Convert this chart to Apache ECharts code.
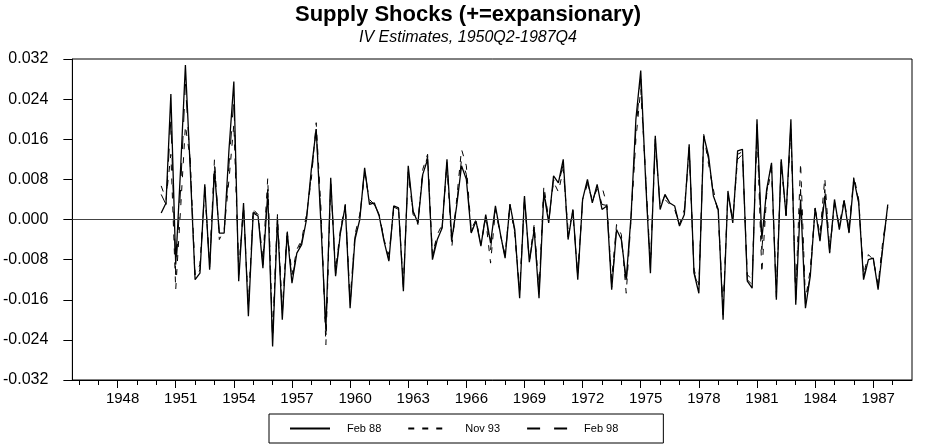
<!DOCTYPE html>
<html>
<head>
<meta charset="utf-8">
<script src="https://cdn.jsdelivr.net/npm/echarts@6/dist/echarts.min.js"></script>
<style>
html, body { margin: 0; padding: 0; background: #fff; }
#chart { width: 935px; height: 447px; }
</style>
</head>
<body>
<div id="chart"></div>
<script>
// quarterly supply shocks, 1950Q2 - 1987Q4
const startYear = 1950
const startQuarter = 2

const feb88 = [
    0.0013, 0.0033, 0.025, -0.009, 0.010, 0.0308, 0.010, -0.012, -0.0107, 0.007,
    -0.010, 0.0097, -0.0027, -0.0027, 0.014, 0.0275, -0.0123, 0.0033, -0.0193, 0.0013,
    0.0007, -0.0097, 0.0053, -0.0253, 0.0, -0.020, -0.0027, -0.0127, -0.0067, -0.005,
    0.0, 0.010, 0.018, -0.0013, -0.022, 0.0083, -0.0113, -0.0027, 0.0027, -0.0177,
    -0.004, 0.0, 0.0103, 0.003, 0.0033, 0.0007, -0.0043, -0.0083, 0.0027, 0.0023,
    -0.0143, 0.0107, 0.0017, -0.0007, 0.009, 0.012, -0.008, -0.004, -0.0017, 0.012,
    -0.004, 0.0027, 0.0107, 0.008, -0.0027, -0.0003, -0.0053, 0.001, -0.0047, 0.0027,
    -0.0027, -0.0077, 0.003, -0.002, -0.0157, 0.0047, -0.0085, -0.002, -0.0157, 0.0053,
    -0.0007, 0.0087, 0.0073, 0.012, -0.004, 0.002, -0.012, 0.004, 0.008, 0.0033,
    0.007, 0.002, 0.0027, -0.014, -0.002, -0.004, -0.012, 0.0007, 0.020, 0.0297,
    0.008, -0.0107, 0.0167, 0.002, 0.005, 0.0033, 0.0027, -0.0013, 0.001, 0.015,
    -0.0107, -0.0147, 0.0167, 0.0127, 0.0047, 0.002, -0.020, 0.0057, -0.0007, 0.0137,
    0.014, -0.0123, -0.0137, 0.020, -0.004, 0.006, 0.0113, -0.016, 0.012, 0.0007,
    0.020, -0.017, 0.004, -0.0177, -0.0113, 0.0023, -0.0043, 0.0047, -0.0067, 0.004,
    -0.002, 0.0037, -0.0027, 0.008, 0.0033, -0.012, -0.008, -0.0077, -0.014, -0.0053,
    0.003
]

const nov93 = [
    0.0067, 0.004, 0.013, -0.014, 0.002, 0.0187, 0.012, -0.011, -0.009, 0.006,
    -0.009, 0.012, -0.004, -0.002, 0.008, 0.019, -0.010, 0.002, -0.017, 0.002,
    0.001, -0.008, 0.0083, -0.023, 0.001, -0.018, -0.002, -0.011, -0.006, -0.004,
    0.001, 0.008, 0.0193, 0.002, -0.025, 0.007, -0.010, -0.002, 0.003, -0.016,
    -0.003, 0.001, 0.009, 0.004, 0.003, 0.001, -0.004, -0.007, 0.002, 0.002,
    -0.013, 0.0095, 0.001, -0.001, 0.010, 0.013, -0.007, -0.003, -0.001, 0.011,
    -0.0055, 0.004, 0.014, 0.0107, -0.002, 0.000, -0.005, 0.000, -0.0087, 0.002,
    -0.003, -0.007, 0.003, -0.003, -0.014, 0.004, -0.008, -0.001, -0.014, 0.0067,
    0.000, 0.0075, 0.0055, 0.010, -0.002, 0.001, -0.011, 0.004, 0.007, 0.004,
    0.006, 0.0065, 0.003, -0.012, -0.001, -0.003, -0.0147, 0.000, 0.016, 0.026,
    0.009, -0.009, 0.015, 0.003, 0.004, 0.003, 0.002, -0.001, 0.002, 0.014,
    -0.010, -0.013, 0.017, 0.011, 0.006, 0.001, -0.018, 0.005, 0.000, 0.012,
    0.013, -0.011, -0.012, 0.018, -0.0107, 0.005, 0.010, -0.014, 0.011, 0.001,
    0.018, -0.015, 0.0113, -0.016, -0.010, 0.002, -0.003, 0.0083, -0.006, 0.003,
    -0.001, 0.004, -0.002, 0.0087, 0.004, -0.011, -0.007, -0.008, -0.013, -0.004,
    0.002
]

const feb98 = [
    0.005, 0.003, 0.020, -0.011, 0.006, 0.027, 0.011, -0.012, -0.010, 0.0065,
    -0.0095, 0.011, -0.003, -0.0025, 0.011, 0.024, -0.011, 0.003, -0.018, 0.0015,
    0.001, -0.009, 0.006, -0.024, 0.0005, -0.019, -0.0025, -0.012, -0.0065, -0.0045,
    0.0005, 0.009, 0.018, 0.000, -0.023, 0.008, -0.011, -0.0025, 0.003, -0.017,
    -0.0035, 0.0005, 0.010, 0.0035, 0.003, 0.001, -0.004, -0.008, 0.0025, 0.002,
    -0.0135, 0.010, 0.0015, -0.0005, 0.0095, 0.0125, -0.0075, -0.0035, -0.0015, 0.0115,
    -0.0045, 0.003, 0.012, 0.009, -0.0025, -0.0002, -0.005, 0.0008, -0.006, 0.0025,
    -0.0028, -0.0075, 0.003, -0.0025, -0.015, 0.0045, -0.0085, -0.0015, -0.015, 0.006,
    -0.0005, 0.008, 0.007, 0.011, -0.0035, 0.0018, -0.0115, 0.004, 0.0075, 0.0035,
    0.0065, 0.003, 0.0028, -0.0135, -0.0018, -0.0038, -0.013, 0.0005, 0.018, 0.028,
    0.0085, -0.010, 0.016, 0.0025, 0.0048, 0.0033, 0.0025, -0.0012, 0.0012, 0.0145,
    -0.0105, -0.014, 0.0165, 0.012, 0.005, 0.0018, -0.019, 0.0055, -0.0005, 0.013,
    0.0135, -0.012, -0.013, 0.019, -0.006, 0.0055, 0.011, -0.0155, 0.0115, 0.0008,
    0.019, -0.016, 0.006, -0.017, -0.011, 0.0022, -0.004, 0.006, -0.0065, 0.0035,
    -0.0015, 0.0038, -0.0025, 0.0082, 0.0035, -0.0115, -0.0078, -0.0078, -0.0135, -0.005,
    0.0025
]

// axis ticks
const yearTicks = []
for (let y = 1946; y <= 1988; y++) yearTicks.push(y)
const yearLabels = [1948, 1951, 1954, 1957, 1960, 1963, 1966, 1969, 1972, 1975, 1978, 1981, 1984, 1987]
const xMin = 1945.666
const xMax = 1989.0

// time of each quarter
const quarters = feb88.map((_, i) => startYear + (startQuarter - 1 + i) / 4)
const toPoints = arr => arr.map((v, i) => [quarters[i], v])

const font = 'Liberation Sans, Arial, sans-serif'
const chart = echarts.init(document.getElementById('chart'))

const option = {
    animation: false,
    title: {
        text: 'Supply Shocks (+=expansionary)',
        subtext: 'IV Estimates, 1950Q2-1987Q4',
        left: 463,
        textAlign: 'center',
        top: -1,
        itemGap: 4,
        textStyle: { fontFamily: font, fontSize: 22, fontWeight: 'bold', color: '#000' },
        subtextStyle: { fontFamily: font, fontSize: 16, fontStyle: 'italic', color: '#000' }
    },
    legend: {
        left: 269,
        top: 414,
        padding: [9, 45, 9, 20],
        itemGap: 26,
        itemWidth: 40,
        itemHeight: 10,
        borderColor: '#000',
        borderWidth: 1,
        itemStyle: { color: 'transparent', borderColor: 'transparent', borderWidth: 0, opacity: 0 },
        textStyle: { fontFamily: font, fontSize: 11, color: '#000', padding: [0, 0, 0, 12] },
        data: ['Feb 88', 'Nov 93', 'Feb 98']
    },
    grid: {
        left: 71, right: 23, top: 59, bottom: 67,
        show: true, borderColor: '#000', borderWidth: 1
    },
    xAxis: [{
        type: 'value', min: xMin, max: xMax, position: 'bottom',
        axisLine: { show: true, onZero: false, lineStyle: { color: '#000' } },
        axisTick: { show: true, customValues: yearTicks, length: 5, lineStyle: { color: '#000' } },
        axisLabel: { show: false },
        splitLine: { show: false }
    }, {
        type: 'value', min: xMin, max: xMax, position: 'bottom',
        axisLine: { show: false, onZero: false },
        axisTick: { show: true, customValues: yearLabels, length: 8, lineStyle: { color: '#000' } },
        axisLabel: {
            customValues: yearLabels, formatter: v => String(v),
            fontFamily: font, fontSize: 15, color: '#000', margin: 11,
            padding: [0, 0, 0, 10]
        },
        splitLine: { show: false }
    }],
    yAxis: {
        type: 'value', min: -0.032, max: 0.032, interval: 0.008,
        axisLine: { show: true, lineStyle: { color: '#000' } },
        axisTick: { show: true, length: 9, lineStyle: { color: '#000' } },
        axisLabel: {
            formatter: v => v.toFixed(3),
            fontFamily: font, fontSize: 16, color: '#000', margin: 24
        },
        splitLine: { show: false }
    },
    series: [{
        name: 'Feb 88', type: 'line', symbol: 'none',
        data: toPoints(feb88),
        lineStyle: { color: '#000', width: 1.3, type: 'solid' },
        itemStyle: { color: '#000' },
        markLine: {
            silent: true, symbol: 'none', label: { show: false },
            lineStyle: { color: '#444', width: 1, type: 'solid' },
            data: [{ yAxis: 0 }]
        }
    }, {
        name: 'Nov 93', type: 'line', symbol: 'none',
        data: toPoints(nov93),
        lineStyle: { color: '#000', width: 1, type: [6, 8] },
        itemStyle: { color: '#000' }
    }, {
        name: 'Feb 98', type: 'line', symbol: 'none',
        data: toPoints(feb98),
        lineStyle: { color: '#000', width: 1, type: [13, 14] },
        itemStyle: { color: '#000' }
    }]
}

chart.setOption(option)
</script>
</body>
</html>
